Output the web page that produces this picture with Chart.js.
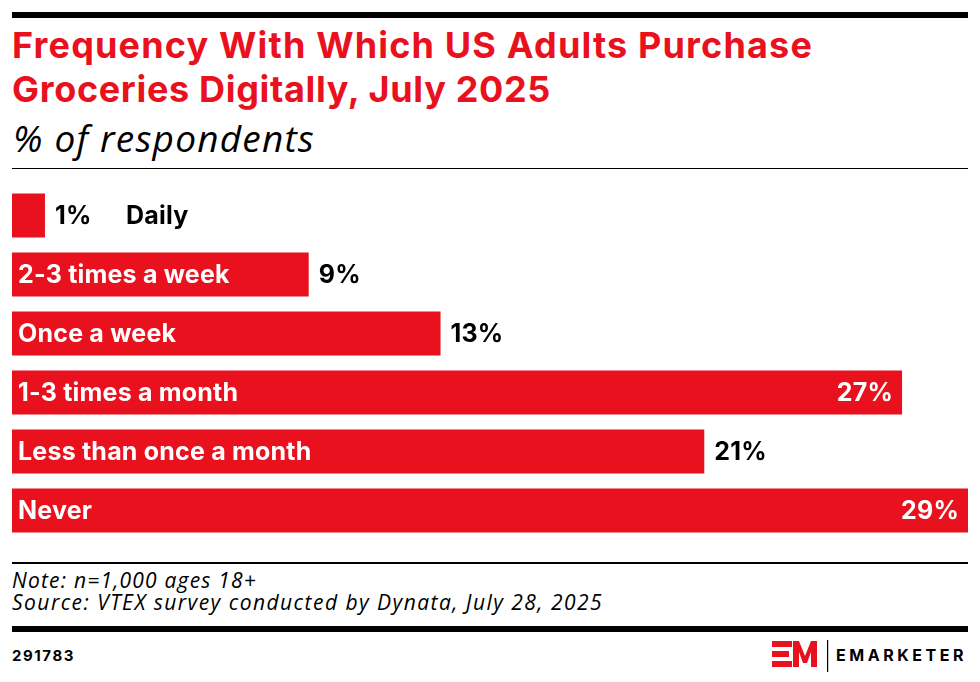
<!DOCTYPE html>
<html>
<head>
<meta charset="utf-8">
<script src="https://cdn.jsdelivr.net/npm/chart.js@4/dist/chart.umd.min.js"></script>
<style>
  html, body { margin: 0; padding: 0; background: #fff; }
  body { width: 980px; height: 682px; position: relative; overflow: hidden; font-family: Inter, sans-serif; }
  .rule { position: absolute; left: 12px; width: 956px; background: #000; }
  .ln { display: inline-block; white-space: nowrap; }
  #title { position: absolute; left: 12px; top: 23px; font: 700 36px/44px Inter, sans-serif; color: #E9111E; }
  #subtitle { position: absolute; left: 13px; top: 119px; font: italic 400 37px/37px "Open Sans", sans-serif; color: #000; }
  #notes { position: absolute; left: 12px; top: 569px; font: italic 400 21px/22px "Open Sans", sans-serif; color: #000; }
  #chartId { position: absolute; left: 12px; top: 648px; font: 700 15px/15px Inter, sans-serif; color: #000; }
  #brand { position: absolute; left: 836px; top: 647px; font: 700 16px/16px Inter, sans-serif; color: #000; }
  #chartBox { position: absolute; left: 0; top: 186px; width: 980px; height: 354px; }
</style>
</head>
<body>
<div class="rule" style="top:12px;height:6px"></div>
<div id="title"><span class="ln" data-w="801">Frequency With Which US Adults Purchase</span><br><span class="ln" data-w="539">Groceries Digitally, July 2025</span></div>
<div id="subtitle"><span class="ln" data-w="302">% of respondents</span></div>
<div class="rule" style="top:168px;height:1px"></div>

<div id="chartBox"><canvas id="grafico" width="980" height="354"></canvas></div>

<div class="rule" style="top:562px;height:1.5px"></div>
<div id="notes"><span class="ln" data-w="245">Note: n=1,000 ages 18+</span><br><span class="ln" data-w="591">Source: VTEX survey conducted by Dynata, July 28, 2025</span></div>
<div class="rule" style="top:626px;height:6px"></div>
<div id="chartId"><span class="ln" data-w="63">291783</span></div>
<svg style="position:absolute;left:772px;top:640px" width="60" height="32" viewBox="0 0 60 32">
  <g fill="#E9111E">
    <rect x="0" y="1" width="20" height="6"/>
    <rect x="0" y="11" width="17" height="6"/>
    <rect x="0" y="21" width="20" height="6"/>
    <polygon points="21,1 27,1 33,16 39,1 45,1 45,27 39,27 39,12 35,23 31,23 27,12 27,27 21,27"/>
  </g>
  <rect x="55" y="-2" width="1.2" height="34" fill="#000"/>
</svg>
<div id="brand"><span class="ln" data-w="131">EMARKETER</span></div>

<script>
// dados
const categorias = ['Daily', '2-3 times a week', 'Once a week', '1-3 times a month', 'Less than once a month', 'Never'];
const valores = [1, 9, 13, 27, 21, 29];
const escalaMax = 29;

const vermelho = '#E9111E';

// ajusta o espaçamento das letras para chegar na largura do original
document.querySelectorAll('.ln').forEach((el) => {
  const alvo = +el.dataset.w;
  const w = el.getBoundingClientRect().width;
  const n = el.textContent.length;
  el.style.letterSpacing = ((alvo - w) / n) + 'px';
});

// rótulos dentro/fora das barras
const rotulosPlugin = {
  id: 'rotulos',
  afterDatasetsDraw(chart) {
    const ctx = chart.ctx;
    const meta = chart.getDatasetMeta(0);
    ctx.save();
    ctx.font = '700 25px Inter, sans-serif';
    ctx.letterSpacing = '0.2px';
    ctx.textBaseline = 'middle';
    meta.data.forEach((bar, i) => {
      const cat = categorias[i];
      const val = valores[i] + '%';
      const y = bar.y + 1;
      const catW = ctx.measureText(cat).width;
      const largura = bar.x - bar.base;

      if (largura >= catW + 16) {
        // categoria dentro da barra
        ctx.fillStyle = '#fff';
        ctx.textAlign = 'left';
        ctx.fillText(cat, bar.base + 6, y);
        if (valores[i] / escalaMax > 0.85) {
          ctx.textAlign = 'right';
          ctx.fillText(val, bar.x - 9, y);
        } else {
          ctx.fillStyle = '#000';
          ctx.textAlign = 'left';
          ctx.fillText(val, bar.x + 10, y);
        }
      } else {
        // barra curta: valor e categoria fora
        ctx.fillStyle = '#000';
        ctx.textAlign = 'left';
        ctx.fillText(val, bar.x + 10, y);
        ctx.fillText(cat, bar.x + 81, y);
      }
    });
    ctx.restore();
  }
};

const ctx = document.getElementById('grafico').getContext('2d');
new Chart(ctx, {
  type: 'bar',
  data: {
    labels: categorias,
    datasets: [{
      data: valores,
      backgroundColor: vermelho,
      borderWidth: 0,
      categoryPercentage: 1,
      barPercentage: 44 / 59
    }]
  },
  options: {
    indexAxis: 'y',
    responsive: false,
    animation: false,
    layout: { padding: { left: 12, right: 12, top: 0, bottom: 0 } },
    plugins: { legend: { display: false }, tooltip: { enabled: false } },
    scales: {
      x: { display: false, min: 0, max: escalaMax },
      y: { display: false }
    }
  },
  plugins: [rotulosPlugin]
});
</script>
</body>
</html>
